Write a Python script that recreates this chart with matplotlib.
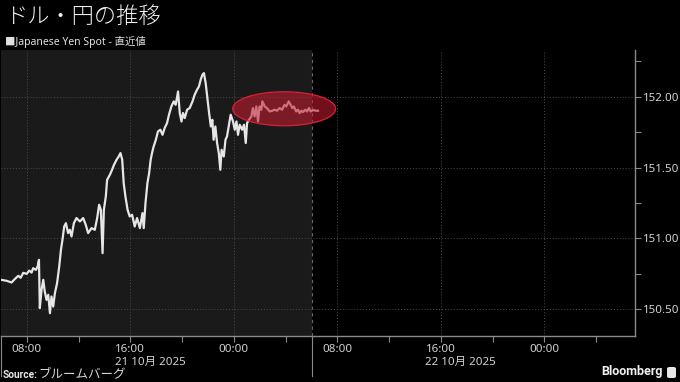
import numpy as np
import pandas as pd
import matplotlib
matplotlib.use('Agg')
import matplotlib.pyplot as plt
import matplotlib.dates as mdates
import matplotlib.transforms as mtransforms
from matplotlib.patches import Ellipse, FancyBboxPatch
from matplotlib.ticker import FormatStrFormatter

plt.rcParams['font.family'] = ['Noto Sans', 'Noto Sans CJK JP', 'DejaVu Sans']

# ---- data -------------------------------------------------------------
title = 'ドル・円の推移'
subtitle = '■Japanese Yen Spot - 直近値'
source_label = 'Source:'
source_name = 'ブルームバーグ'
brand = 'Bloomberg'
date_labels = ['21 10月 2025', '22 10月 2025']
date_label_days = ['2025-10-21', '2025-10-22']
y_ticks = [150.5, 151.0, 151.5, 152.0]
y_minor = [150.75, 151.25, 151.75, 152.25]

# minutes after 2025-10-21 06:00 (JST)
minutes = [0, 26, 49, 64, 80, 91, 103, 119, 131, 142, 149, 162, 170, 176, 180, 188,
           196, 203, 211, 219, 227, 234, 242, 250, 260, 270, 278, 285, 293, 301,
           311, 319, 327, 338, 350, 366, 381, 393, 404, 420, 435, 446, 455, 463,
           471, 477, 486, 492, 505, 515, 524, 536, 546, 554, 562, 569, 577, 587,
           597, 608, 620, 631, 644, 656, 662, 670, 679, 687, 694, 702, 708, 718,
           728, 739, 749, 759, 770, 779, 790, 801, 810, 821, 829, 837, 844, 852,
           863, 875, 888, 898, 909, 918, 926, 934, 941, 949, 956, 965, 973, 980,
           986, 994, 1002, 1010, 1017, 1023, 1033, 1041, 1048, 1056, 1065, 1076,
           1084, 1092, 1099, 1107, 1118, 1127, 1135, 1141, 1150, 1161, 1168, 1176,
           1184, 1192, 1199, 1207, 1212, 1223, 1233, 1246, 1258, 1269, 1280, 1292,
           1303, 1315, 1323, 1334, 1343, 1351, 1358, 1369, 1377, 1385, 1393, 1400,
           1411, 1419, 1428, 1436, 1447, 1462, 1470]
price = [150.707, 150.700, 150.688, 150.712, 150.735, 150.721, 150.756, 150.749,
         150.772, 150.758, 150.789, 150.777, 150.801, 150.848, 150.507, 150.636,
         150.707, 150.624, 150.565, 150.601, 150.471, 150.589, 150.518, 150.613,
         150.683, 150.801, 150.919, 150.989, 151.083, 151.107, 151.037, 151.060,
         151.013, 151.107, 151.143, 151.119, 151.143, 151.095, 151.037, 151.072,
         151.060, 151.143, 151.237, 151.201, 150.895, 151.201, 151.295, 151.413,
         151.449, 151.484, 151.519, 151.555, 151.578, 151.602, 151.555, 151.390,
         151.295, 151.201, 151.154, 151.166, 151.083, 151.143, 151.072, 151.178,
         151.072, 151.249, 151.390, 151.461, 151.555, 151.613, 151.649, 151.696,
         151.755, 151.767, 151.731, 151.779, 151.814, 151.873, 151.931, 151.967,
         151.943, 152.037, 151.885, 151.825, 151.885, 151.849, 151.908, 151.920,
         151.967, 152.014, 152.049, 152.073, 152.120, 152.155, 152.167, 152.097,
         152.002, 151.885, 151.790, 151.837, 151.696, 151.790, 151.673, 151.602,
         151.484, 151.625, 151.578, 151.696, 151.719, 151.790, 151.873, 151.825,
         151.767, 151.825, 151.731, 151.802, 151.767, 151.802, 151.673, 151.814,
         151.837, 151.861, 151.920, 151.861, 151.931, 151.825, 151.931, 151.908,
         151.967, 151.931, 151.920, 151.896, 151.901, 151.908, 151.901, 151.920,
         151.908, 151.943, 151.931, 151.967, 151.943, 151.920, 151.931, 151.896,
         151.908, 151.885, 151.901, 151.892, 151.908, 151.896, 151.920, 151.896,
         151.906, 151.901, 151.901]

start = pd.Timestamp('2025-10-21 06:00')
now_t = pd.Timestamp('2025-10-22 06:00')
end_t = pd.Timestamp('2025-10-23 07:00')
times = start + pd.to_timedelta(minutes, unit='min')

# ---- figure -------------------------------------------------------------
W, H = 680, 382
fig = plt.figure(figsize=(W / 100, H / 100), dpi=100, facecolor='black')
ax = fig.add_axes([1 / W, 46 / H, 634 / W, 286 / H])
ax.set_facecolor('black')
ax.set_xlim(start, end_t)
ax.set_ylim(150.31, 152.33)

ax.axvspan(start, now_t, color='#1a1a1a', zorder=0, lw=0)
ax.axvline(now_t, color='#6a6a6a', lw=0.8, ls=(0, (3, 3)), zorder=1)
ax.plot(times, price, color='#e6e6e6', lw=1.6, zorder=3)

# highlight ellipse
ec = mdates.date2num(start + pd.Timedelta(minutes=1313))
ell = Ellipse((ec, 151.915), width=477 / 1440, height=0.24,
              facecolor='#c41a30', alpha=0.58, edgecolor='none', zorder=4)
ax.add_patch(ell)
ell2 = Ellipse((ec, 151.915), width=477 / 1440, height=0.24,
               facecolor='none', edgecolor='#d8203a', lw=0.9, zorder=4)
ax.add_patch(ell2)

# axes
ax.xaxis.set_major_locator(mdates.HourLocator(byhour=[0, 8, 16]))
ax.xaxis.set_minor_locator(mdates.HourLocator(byhour=[4, 12, 20]))
ax.xaxis.set_major_formatter(mdates.DateFormatter('%H:%M'))
ax.yaxis.tick_right()
ax.set_yticks(y_ticks)
ax.set_yticks(y_minor, minor=True)
ax.yaxis.set_major_formatter(FormatStrFormatter('%.2f'))
ax.tick_params(axis='both', which='both', colors='#8a8a8a', labelcolor='#d2d2d2',
               length=4, width=0.8, labelsize=8.3, pad=2)
ax.grid(which='major', color='#4c4c4c', ls=(0, (1, 2)), lw=0.7)
for s in ['top', 'left']:
    ax.spines[s].set_visible(False)
for s in ['right', 'bottom']:
    ax.spines[s].set_color('#8a8a8a')
    ax.spines[s].set_linewidth(1.0)

trans = mtransforms.blended_transform_factory(ax.transData, ax.transAxes)
for lab, day in zip(date_labels, date_label_days):
    xpos = pd.Timestamp(day + ' 16:00') - pd.Timedelta(minutes=72)
    ax.text(mdates.date2num(xpos), -0.093, lab, transform=trans, ha='left',
            va='center', fontsize=8.3, color='#d2d2d2')
for xs in [start, now_t]:
    ax.plot([mdates.date2num(xs)] * 2, [0, -0.14], transform=trans, clip_on=False,
            color='#8a8a8a', lw=0.8)

# texts
fig.text(5 / W, 1 - 17 / H, title, fontsize=16, color='#f0f0f0', va='center',
         fontweight='light', family=['Noto Sans CJK JP', 'DejaVu Sans'])
fig.text(5 / W, 1 - 42 / H, subtitle, fontsize=7.5, color='#e0e0e0', va='center')
fig.text(3 / W, 1 - 375 / H, source_label, fontsize=7.3, fontweight='bold',
         color='#e8e8e8', va='center', family=['Roboto', 'DejaVu Sans'])
fig.text(38 / W, 1 - 375 / H, source_name, fontsize=9, color='#d8d8d8', va='center',
         family=['Noto Sans CJK JP', 'DejaVu Sans'])
fig.text(663 / W, 1 - 372 / H, brand, fontsize=9, fontweight='bold', color='#f0f0f0',
         ha='right', va='center', family=['Roboto', 'DejaVu Sans'])
icon = FancyBboxPatch((667 / W, 1 - 378 / H), 9 / W, 11 / H,
                      boxstyle='round,pad=0,rounding_size=0.004',
                      transform=fig.transFigure, facecolor='#e8e8e8', edgecolor='none')
fig.patches.append(icon)

fig.savefig('out.png', dpi=100, facecolor='black')
